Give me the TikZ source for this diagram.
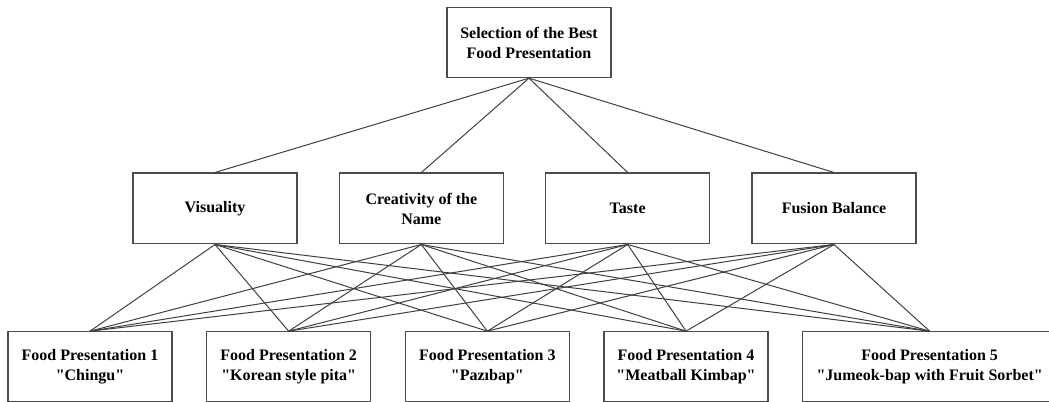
\documentclass[tikz,border=0pt]{standalone}
\usepackage{fontspec}
\setmainfont{Liberation Serif}
\usetikzlibrary{positioning}

\newcommand{\dishname}[1]{\textquotedbl#1\textquotedbl}

\tikzset{
  critbox/.style={draw=black!70, line width=1pt, minimum width=123pt, minimum height=53pt,
    inner sep=2pt, align=center, font=\fontsize{12}{15}\selectfont\bfseries},
  altbox/.style={critbox, minimum height=52pt},
  link/.style={draw=black!75, line width=0.75pt}
}

\begin{document}
\begin{tikzpicture}[x=0.75pt, y=-0.75pt]
        \useasboundingbox (0,0) rectangle (1049,402);

        % Nodes
        \node (goal) [critbox, minimum height=52.5pt] at (529,42.5) {Selection of the Best\\Food Presentation};

        \node (vis) [critbox] at (215,208.5) {Visuality};
        \node (crea) [critbox, right=30.75pt of vis] {Creativity of the\\Name};
        \node (taste) [critbox, right=30.75pt of crea] {Taste};
        \node (fusion) [critbox, right=30.75pt of taste] {Fusion Balance};

        \node (fp1) [altbox] at (90,366.5) {Food Presentation 1\\\dishname{Chingu}};
        \node (fp2) [altbox, right=25pt of fp1] {Food Presentation 2\\\dishname{Korean style pita}};
        \node (fp3) [altbox, right=25pt of fp2] {Food Presentation 3\\\dishname{Pazıbap}};
        \node (fp4) [altbox, right=25pt of fp3] {Food Presentation 4\\\dishname{Meatball Kimbap}};
        \node (fp5) [altbox, right=25pt of fp4, minimum width=190.5pt] {Food Presentation 5\\\dishname{Jumeok-bap with Fruit Sorbet}};

        % Lines
        \foreach \c in {vis, crea, taste, fusion} {
            \draw[link] (goal.south) -- (\c.north);
            \foreach \a in {fp1, fp2, fp3, fp4, fp5}
                \draw[link] (\c.south) -- (\a.north);
        }
\end{tikzpicture}
\end{document}
